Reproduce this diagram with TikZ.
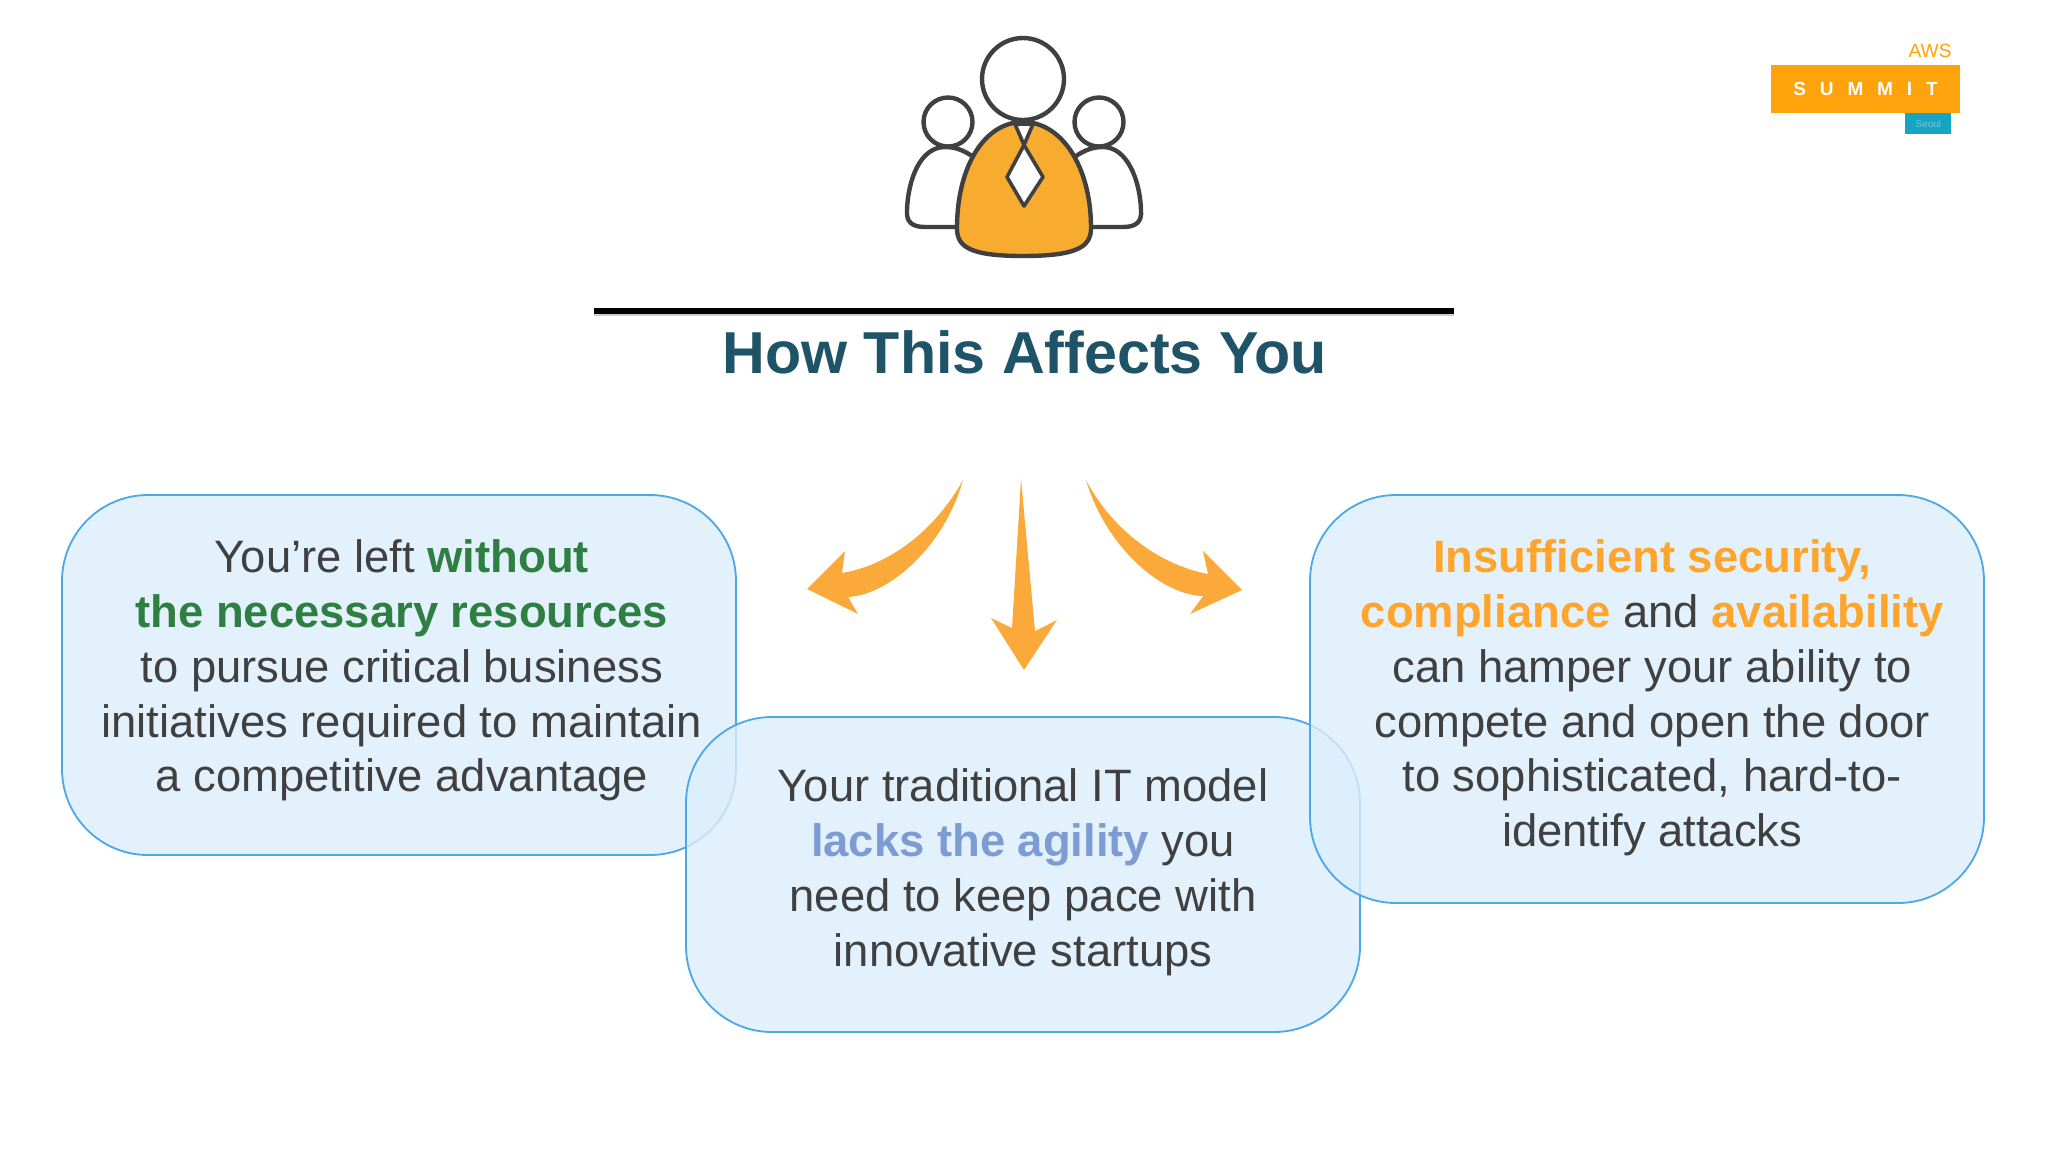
\documentclass[tikz,border=0pt]{standalone}
\usepackage{fontspec}
\setmainfont{Liberation Sans}
\usetikzlibrary{positioning}
\definecolor{inkgray}{HTML}{404040}
\definecolor{titleblue}{HTML}{1F5468}
\definecolor{boxfill}{HTML}{DCEDFD}
\definecolor{boxline}{HTML}{4BA7E6}
\definecolor{leafgreen}{HTML}{2F7F43}
\definecolor{softblue}{HTML}{7D9CD3}
\definecolor{brightorange}{HTML}{FFA52B}
\definecolor{arroworange}{HTML}{FBA93B}
\definecolor{iconorange}{HTML}{F8AC2F}
\definecolor{logoorange}{HTML}{FFA30D}
\definecolor{logoteal}{HTML}{17A3C2}
\newcommand{\good}[1]{\textcolor{leafgreen}{\bfseries #1}}
\newcommand{\agile}[1]{\textcolor{softblue}{\bfseries #1}}
\newcommand{\warn}[1]{\textcolor{brightorange}{\bfseries #1}}

\begin{document}
\begin{tikzpicture}
		[x=0.5pt, y=-0.5pt,
		msgbox/.style={draw=boxline, line width=0.9pt, fill=boxfill, fill opacity=0.8, rounded corners=43pt, inner sep=0pt, minimum width=337pt},
		msgtext/.style={align=center, text=inkgray, font=\fontsize{22.7}{27.42}\selectfont, inner sep=0pt},
		icon/.style={draw=inkgray, line width=2.2pt, line join=round, fill=white},
		bigarrow/.style={fill=arroworange, draw=none}]
		\useasboundingbox (0,0) rectangle (2048,1152);

		% boxes
		\node[msgbox, minimum height=180pt] (left) at (399,675) {};
		\node[msgbox, minimum height=157.5pt] (middle) at (1023,874.5) {};
		\node[msgbox, minimum height=204pt] (right) at (1647,699) {};

		\node[msgtext, below=22.6pt of left.north, xshift=1.4pt] (lefttext) {You’re left \good{without}\\\good{the necessary resources}\\to pursue critical business\\initiatives required to maintain\\a competitive advantage};
		\node[msgtext, below=22.6pt of right.north, xshift=2.6pt] (righttext) {\warn{Insufficient security,}\\\warn{compliance} and \warn{availability}\\can hamper your ability to\\compete and open the door\\to sophisticated, hard-to-\\identify attacks};
		\node[msgtext, below=26.2pt of middle.north] (middletext) {Your traditional IT model\\\agile{lacks the agility} you\\need to keep pace with\\innovative startups};

		% title and rule
		\draw[line width=1pt, black!20] (594,315) -- (1454,315);
		\draw[line width=2.6pt, black] (594,311) -- (1454,311);
		\node[font=\fontsize{29.6}{34}\selectfont\bfseries, text=titleblue, inner sep=0pt] (title) at (1024.5,352) {How This Affects You};

		% people
		\filldraw[icon] (972,156) .. controls (963,150) and (955,147) .. (945,147) .. controls (920,147) and (908,180) .. (907,210)
			.. controls (906,222) and (912,227) .. (925,227) -- (960,227);
		\filldraw[icon] (1076,156) .. controls (1085,150) and (1093,147) .. (1103,147) .. controls (1127,147) and (1140,180) .. (1141,210)
			.. controls (1142,222) and (1136,227) .. (1123,227) -- (1088,227);
		\node[icon, circle, inner sep=0pt, minimum size=24.5pt] (headleft) at (948,122) {};
		\node[icon, circle, inner sep=0pt, minimum size=24.5pt] (headright) at (1099,122) {};
		\filldraw[icon, fill=iconorange] (1023,122) .. controls (985,122) and (958,165) .. (957,225)
			.. controls (956,245) and (965,256) .. (1023,256)
			.. controls (1082,256) and (1092,245) .. (1091,225)
			.. controls (1090,165) and (1061,122) .. (1023,122) -- cycle;
		\node[icon, circle, inner sep=0pt, minimum size=41pt] (headmain) at (1023,79) {};
		\filldraw[icon, line width=1.8pt] (1015,124) -- (1033,124) -- (1024,145) -- cycle;
		\filldraw[icon, line width=1.8pt] (1024,145) -- (1007,177) -- (1024,206) -- (1043,177) -- cycle;

		% arrows
		\fill[bigarrow] (807,589) -- (845,551) -- (842,573) .. controls (890,565) and (935,530) .. (963,480)
			.. controls (945,545) and (890,595) .. (848,597) -- (858,614) -- cycle;
		\fill[bigarrow] (1021,479) -- (1035,631) -- (1057,620) -- (1024,670) -- (991,618) -- (1012,628) -- cycle;
		\fill[bigarrow] (1242,590) -- (1203,551) -- (1208,574) .. controls (1160,565) and (1112,530) .. (1086,480)
			.. controls (1105,545) and (1160,595) .. (1203,596) -- (1190,614) -- cycle;

		% logo
		\node[fill=logoorange, minimum width=94.5pt, minimum height=24pt, inner sep=0pt, font=\fontsize{9.5}{10}\selectfont\bfseries\addfontfeatures{LetterSpace=73}, text=white] (summit) at (1865.5,88.5) {SUMMIT};
		\node[fill=logoteal, minimum width=23pt, minimum height=10.5pt, inner sep=0pt, font=\fontsize{5}{6}\selectfont, text=logoteal!60!white, below=0pt of summit.south east, xshift=-16pt] (seoul) {Seoul};
		\node[font=\fontsize{9.6}{10}\selectfont, text=logoorange, inner sep=0pt, anchor=south east] (aws) at (1952,58) {AWS};
\end{tikzpicture}
\end{document}
